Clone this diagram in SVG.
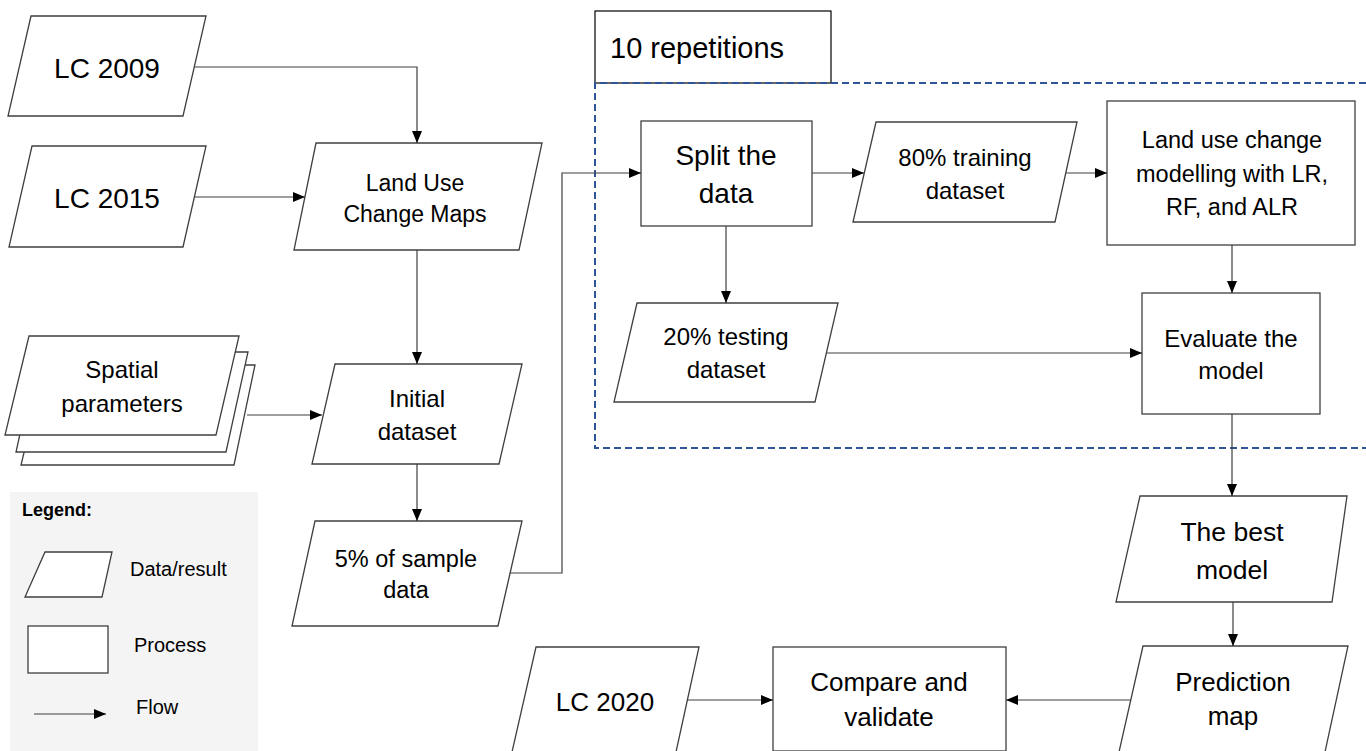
<svg xmlns="http://www.w3.org/2000/svg" width="1366" height="751" viewBox="0 0 1366 751">
<defs>
<marker id="ah" markerUnits="userSpaceOnUse" markerWidth="13" markerHeight="11" refX="12" refY="5.5" orient="auto">
<path d="M0,0.5 L12,5.5 L0,10.5 z" fill="#000"/>
</marker>
<style>
.s{fill:#fff;stroke:#3f3f3f;stroke-width:1.3}
.c{fill:none;stroke:#3f3f3f;stroke-width:1.2;marker-end:url(#ah)}
text{font-family:"Liberation Sans",Arial,sans-serif;fill:#000;text-anchor:middle}
.t22{font-size:23.5px}.t24{font-size:24px}.t26{font-size:26px}.t28{font-size:28px}
.lg{font-size:20px;text-anchor:start}
</style>
</defs>
<rect width="1366" height="751" fill="#fff"/>

<g id="legend">
<rect x="10" y="492" width="248" height="260" fill="#f4f4f4"/>
<text x="22" y="516" style="font-size:18px;font-weight:bold;text-anchor:start">Legend:</text>
<polygon class="s" points="45,552 112,552 102,597 25,597"/>
<text class="lg" x="130" y="576">Data/result</text>
<rect class="s" x="28" y="626" width="80" height="47"/>
<text class="lg" x="134" y="652">Process</text>
<line class="c" x1="34" y1="714" x2="106" y2="714"/>
<text class="lg" x="136" y="714">Flow</text>
</g>

<g id="repetitions">
<rect x="595" y="11" width="236" height="72" fill="#fff" stroke="#000" stroke-width="1.2"/>
<text x="610" y="58" style="font-size:29px;text-anchor:start">10 repetitions</text>
<path d="M1366,83 H595 V448 H1366" fill="none" stroke="#2f5597" stroke-width="2" stroke-dasharray="7,4"/>
</g>

<g id="lc2009">
<polygon class="s" points="31,16 206,16 183,116 8,116"/>
<text class="t28" x="107" y="78">LC 2009</text>
</g>
<g id="lc2015">
<polygon class="s" points="32,146 206,146 183,247 9,247"/>
<text class="t28" x="107" y="208">LC 2015</text>
</g>
<g id="lucmaps">
<polygon class="s" points="316,143 542,143 519,250 294,250"/>
<text x="415" y="191" style="font-size:23px">Land Use</text>
<text x="415" y="222" style="font-size:23px">Change Maps</text>
</g>
<g id="spatial">
<polygon class="s" points="45,365 255,365 234,465 21,465"/>
<polygon class="s" points="38,352 248,352 226,452 16,452"/>
<polygon class="s" points="29,336 239,336 216,435 5,435"/>
<text class="t24" x="122" y="378">Spatial</text>
<text class="t24" x="122" y="412">parameters</text>
</g>
<g id="initial">
<polygon class="s" points="335,364 522,364 499,464 312,464"/>
<text class="t24" x="417" y="407">Initial</text>
<text class="t24" x="417" y="440">dataset</text>
</g>
<g id="sample">
<polygon class="s" points="315,521 522,521 498,626 292,626"/>
<text x="406" y="567" style="font-size:23.5px">5% of sample</text>
<text x="406" y="598" style="font-size:23.5px">data</text>
</g>

<g id="split">
<rect class="s" x="641" y="121" width="171" height="105"/>
<text class="t28" x="726" y="165">Split the</text>
<text class="t28" x="726" y="203">data</text>
</g>
<g id="training">
<polygon class="s" points="876,122 1077,122 1055,222 853,222"/>
<text class="t24" x="965" y="166">80% training</text>
<text class="t24" x="965" y="199">dataset</text>
</g>
<g id="modelling">
<rect class="s" x="1107" y="101" width="248" height="144"/>
<text class="t22" x="1232" y="148">Land use change</text>
<text class="t22" x="1232" y="182">modelling with LR,</text>
<text class="t22" x="1232" y="215">RF, and ALR</text>
</g>
<g id="testing">
<polygon class="s" points="637,303 838,303 815,402 614,402"/>
<text class="t24" x="726" y="345">20% testing</text>
<text class="t24" x="726" y="378">dataset</text>
</g>
<g id="evaluate">
<rect class="s" x="1142" y="293" width="178" height="121"/>
<text class="t24" x="1231" y="347">Evaluate the</text>
<text class="t24" x="1231" y="379">model</text>
</g>
<g id="best">
<polygon class="s" points="1140,496 1347,496 1332,602 1116,602"/>
<text x="1232" y="541" style="font-size:26.5px">The best</text>
<text x="1232" y="579" style="font-size:26.5px">model</text>
</g>
<g id="prediction">
<polygon class="s" points="1143,646 1348,646 1325,752 1119,752"/>
<text class="t26" x="1233" y="691">Prediction</text>
<text class="t26" x="1233" y="725">map</text>
</g>
<g id="compare">
<rect class="s" x="773" y="647" width="233" height="104"/>
<text class="t26" x="889" y="691">Compare and</text>
<text class="t26" x="889" y="726">validate</text>
</g>
<g id="lc2020">
<polygon class="s" points="536,647 699,647 676,752 512,752"/>
<text class="t26" x="605" y="711">LC 2020</text>
</g>

<g id="connectors">
<path class="c" d="M194,67 H417 V143"/>
<path class="c" d="M194,197 H305"/>
<path class="c" d="M417,250 V364"/>
<path class="c" d="M247,415 H322"/>
<path class="c" d="M417,464 V521"/>
<path class="c" d="M510,573 H562 V173 H641"/>
<path class="c" d="M812,173 H864"/>
<path class="c" d="M1066,173 H1107"/>
<path class="c" d="M726,226 V303"/>
<path class="c" d="M827,353 H1142"/>
<path class="c" d="M1232,245 V293"/>
<path class="c" d="M1232,414 V496"/>
<path class="c" d="M1233,602 V646"/>
<path class="c" d="M1131,700 H1006"/>
<path class="c" d="M687,700 H773"/>
</g>
</svg>
